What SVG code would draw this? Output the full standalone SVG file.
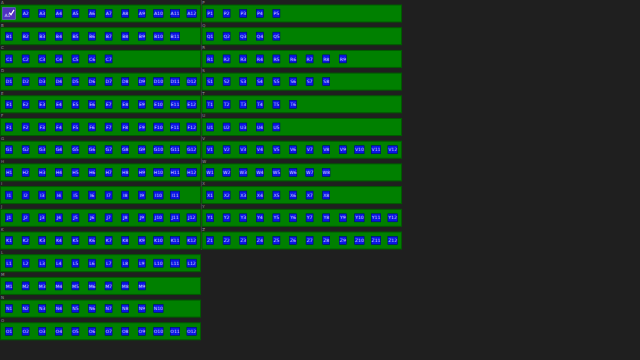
<svg xmlns="http://www.w3.org/2000/svg" width="640" height="360" viewBox="0 0 640 360">
<style>
.row{fill:#008000;stroke:#005a00;stroke-width:1}
.b{fill:#0a14e6;stroke:#00087a;stroke-width:0.6}
.n text{font-family:"DejaVu Sans",sans-serif;font-size:4.5px;fill:#d8dcff;text-anchor:middle}
.lbl{font-family:"DejaVu Sans",sans-serif;font-size:4px;fill:#9a9a9a}
</style>
<rect width="640" height="360" fill="#1f1f1f"/>
<line x1="201.4" y1="0" x2="201.4" y2="250" stroke="#3e3e3e" stroke-width="1"/>
<g id="connectors"/>
<g id="row-A" transform="translate(0.5,5)"><rect class="row" width="200" height="17"/><text class="lbl" x="0.5" y="-1.2">A</text>
<g id="A1" class="n" transform="translate(8.5,8.5)"><rect x="-6.3" y="-5.8" width="12.6" height="11.6" fill="#5030c0" stroke="#7a60e8" stroke-width="0.6"/><text x="-1.5" y="3">A1</text><path d="M0.3,-0.8 L2,1.2 L5,-3.6" fill="none" stroke="#fff" stroke-width="1.2"/></g>
<g id="A2" class="n" transform="translate(25.1,8.5)"><rect class="b" x="-3.5" y="-4" width="7" height="8"/><text y="1.6">A2</text></g>
<g id="A3" class="n" transform="translate(41.7,8.5)"><rect class="b" x="-3.5" y="-4" width="7" height="8"/><text y="1.6">A3</text></g>
<g id="A4" class="n" transform="translate(58.3,8.5)"><rect class="b" x="-3.5" y="-4" width="7" height="8"/><text y="1.6">A4</text></g>
<g id="A5" class="n" transform="translate(74.9,8.5)"><rect class="b" x="-3.5" y="-4" width="7" height="8"/><text y="1.6">A5</text></g>
<g id="A6" class="n" transform="translate(91.5,8.5)"><rect class="b" x="-3.5" y="-4" width="7" height="8"/><text y="1.6">A6</text></g>
<g id="A7" class="n" transform="translate(108.1,8.5)"><rect class="b" x="-3.5" y="-4" width="7" height="8"/><text y="1.6">A7</text></g>
<g id="A8" class="n" transform="translate(124.7,8.5)"><rect class="b" x="-3.5" y="-4" width="7" height="8"/><text y="1.6">A8</text></g>
<g id="A9" class="n" transform="translate(141.3,8.5)"><rect class="b" x="-3.5" y="-4" width="7" height="8"/><text y="1.6">A9</text></g>
<g id="A10" class="n" transform="translate(157.9,8.5)"><rect class="b" x="-4.7" y="-4" width="9.4" height="8"/><text y="1.6">A10</text></g>
<g id="A11" class="n" transform="translate(174.5,8.5)"><rect class="b" x="-4.7" y="-4" width="9.4" height="8"/><text y="1.6">A11</text></g>
<g id="A12" class="n" transform="translate(191.1,8.5)"><rect class="b" x="-4.7" y="-4" width="9.4" height="8"/><text y="1.6">A12</text></g>
</g>
<g id="row-B" transform="translate(0.5,27.7)"><rect class="row" width="200" height="17"/><text class="lbl" x="0.5" y="-1.2">B</text>
<g id="B1" class="n" transform="translate(8.5,8.5)"><rect class="b" x="-3.5" y="-4" width="7" height="8"/><text y="1.6">B1</text></g>
<g id="B2" class="n" transform="translate(25.1,8.5)"><rect class="b" x="-3.5" y="-4" width="7" height="8"/><text y="1.6">B2</text></g>
<g id="B3" class="n" transform="translate(41.7,8.5)"><rect class="b" x="-3.5" y="-4" width="7" height="8"/><text y="1.6">B3</text></g>
<g id="B4" class="n" transform="translate(58.3,8.5)"><rect class="b" x="-3.5" y="-4" width="7" height="8"/><text y="1.6">B4</text></g>
<g id="B5" class="n" transform="translate(74.9,8.5)"><rect class="b" x="-3.5" y="-4" width="7" height="8"/><text y="1.6">B5</text></g>
<g id="B6" class="n" transform="translate(91.5,8.5)"><rect class="b" x="-3.5" y="-4" width="7" height="8"/><text y="1.6">B6</text></g>
<g id="B7" class="n" transform="translate(108.1,8.5)"><rect class="b" x="-3.5" y="-4" width="7" height="8"/><text y="1.6">B7</text></g>
<g id="B8" class="n" transform="translate(124.7,8.5)"><rect class="b" x="-3.5" y="-4" width="7" height="8"/><text y="1.6">B8</text></g>
<g id="B9" class="n" transform="translate(141.3,8.5)"><rect class="b" x="-3.5" y="-4" width="7" height="8"/><text y="1.6">B9</text></g>
<g id="B10" class="n" transform="translate(157.9,8.5)"><rect class="b" x="-4.7" y="-4" width="9.4" height="8"/><text y="1.6">B10</text></g>
<g id="B11" class="n" transform="translate(174.5,8.5)"><rect class="b" x="-4.7" y="-4" width="9.4" height="8"/><text y="1.6">B11</text></g>
</g>
<g id="row-C" transform="translate(0.5,50.4)"><rect class="row" width="200" height="17"/><text class="lbl" x="0.5" y="-1.2">C</text>
<g id="C1" class="n" transform="translate(8.5,8.5)"><rect class="b" x="-3.5" y="-4" width="7" height="8"/><text y="1.6">C1</text></g>
<g id="C2" class="n" transform="translate(25.1,8.5)"><rect class="b" x="-3.5" y="-4" width="7" height="8"/><text y="1.6">C2</text></g>
<g id="C3" class="n" transform="translate(41.7,8.5)"><rect class="b" x="-3.5" y="-4" width="7" height="8"/><text y="1.6">C3</text></g>
<g id="C4" class="n" transform="translate(58.3,8.5)"><rect class="b" x="-3.5" y="-4" width="7" height="8"/><text y="1.6">C4</text></g>
<g id="C5" class="n" transform="translate(74.9,8.5)"><rect class="b" x="-3.5" y="-4" width="7" height="8"/><text y="1.6">C5</text></g>
<g id="C6" class="n" transform="translate(91.5,8.5)"><rect class="b" x="-3.5" y="-4" width="7" height="8"/><text y="1.6">C6</text></g>
<g id="C7" class="n" transform="translate(108.1,8.5)"><rect class="b" x="-3.5" y="-4" width="7" height="8"/><text y="1.6">C7</text></g>
</g>
<g id="row-D" transform="translate(0.5,73.1)"><rect class="row" width="200" height="17"/><text class="lbl" x="0.5" y="-1.2">D</text>
<g id="D1" class="n" transform="translate(8.5,8.5)"><rect class="b" x="-3.5" y="-4" width="7" height="8"/><text y="1.6">D1</text></g>
<g id="D2" class="n" transform="translate(25.1,8.5)"><rect class="b" x="-3.5" y="-4" width="7" height="8"/><text y="1.6">D2</text></g>
<g id="D3" class="n" transform="translate(41.7,8.5)"><rect class="b" x="-3.5" y="-4" width="7" height="8"/><text y="1.6">D3</text></g>
<g id="D4" class="n" transform="translate(58.3,8.5)"><rect class="b" x="-3.5" y="-4" width="7" height="8"/><text y="1.6">D4</text></g>
<g id="D5" class="n" transform="translate(74.9,8.5)"><rect class="b" x="-3.5" y="-4" width="7" height="8"/><text y="1.6">D5</text></g>
<g id="D6" class="n" transform="translate(91.5,8.5)"><rect class="b" x="-3.5" y="-4" width="7" height="8"/><text y="1.6">D6</text></g>
<g id="D7" class="n" transform="translate(108.1,8.5)"><rect class="b" x="-3.5" y="-4" width="7" height="8"/><text y="1.6">D7</text></g>
<g id="D8" class="n" transform="translate(124.7,8.5)"><rect class="b" x="-3.5" y="-4" width="7" height="8"/><text y="1.6">D8</text></g>
<g id="D9" class="n" transform="translate(141.3,8.5)"><rect class="b" x="-3.5" y="-4" width="7" height="8"/><text y="1.6">D9</text></g>
<g id="D10" class="n" transform="translate(157.9,8.5)"><rect class="b" x="-4.7" y="-4" width="9.4" height="8"/><text y="1.6">D10</text></g>
<g id="D11" class="n" transform="translate(174.5,8.5)"><rect class="b" x="-4.7" y="-4" width="9.4" height="8"/><text y="1.6">D11</text></g>
<g id="D12" class="n" transform="translate(191.1,8.5)"><rect class="b" x="-4.7" y="-4" width="9.4" height="8"/><text y="1.6">D12</text></g>
</g>
<g id="row-E" transform="translate(0.5,95.8)"><rect class="row" width="200" height="17"/><text class="lbl" x="0.5" y="-1.2">E</text>
<g id="E1" class="n" transform="translate(8.5,8.5)"><rect class="b" x="-3.5" y="-4" width="7" height="8"/><text y="1.6">E1</text></g>
<g id="E2" class="n" transform="translate(25.1,8.5)"><rect class="b" x="-3.5" y="-4" width="7" height="8"/><text y="1.6">E2</text></g>
<g id="E3" class="n" transform="translate(41.7,8.5)"><rect class="b" x="-3.5" y="-4" width="7" height="8"/><text y="1.6">E3</text></g>
<g id="E4" class="n" transform="translate(58.3,8.5)"><rect class="b" x="-3.5" y="-4" width="7" height="8"/><text y="1.6">E4</text></g>
<g id="E5" class="n" transform="translate(74.9,8.5)"><rect class="b" x="-3.5" y="-4" width="7" height="8"/><text y="1.6">E5</text></g>
<g id="E6" class="n" transform="translate(91.5,8.5)"><rect class="b" x="-3.5" y="-4" width="7" height="8"/><text y="1.6">E6</text></g>
<g id="E7" class="n" transform="translate(108.1,8.5)"><rect class="b" x="-3.5" y="-4" width="7" height="8"/><text y="1.6">E7</text></g>
<g id="E8" class="n" transform="translate(124.7,8.5)"><rect class="b" x="-3.5" y="-4" width="7" height="8"/><text y="1.6">E8</text></g>
<g id="E9" class="n" transform="translate(141.3,8.5)"><rect class="b" x="-3.5" y="-4" width="7" height="8"/><text y="1.6">E9</text></g>
<g id="E10" class="n" transform="translate(157.9,8.5)"><rect class="b" x="-4.7" y="-4" width="9.4" height="8"/><text y="1.6">E10</text></g>
<g id="E11" class="n" transform="translate(174.5,8.5)"><rect class="b" x="-4.7" y="-4" width="9.4" height="8"/><text y="1.6">E11</text></g>
<g id="E12" class="n" transform="translate(191.1,8.5)"><rect class="b" x="-4.7" y="-4" width="9.4" height="8"/><text y="1.6">E12</text></g>
</g>
<g id="row-F" transform="translate(0.5,118.5)"><rect class="row" width="200" height="17"/><text class="lbl" x="0.5" y="-1.2">F</text>
<g id="F1" class="n" transform="translate(8.5,8.5)"><rect class="b" x="-3.5" y="-4" width="7" height="8"/><text y="1.6">F1</text></g>
<g id="F2" class="n" transform="translate(25.1,8.5)"><rect class="b" x="-3.5" y="-4" width="7" height="8"/><text y="1.6">F2</text></g>
<g id="F3" class="n" transform="translate(41.7,8.5)"><rect class="b" x="-3.5" y="-4" width="7" height="8"/><text y="1.6">F3</text></g>
<g id="F4" class="n" transform="translate(58.3,8.5)"><rect class="b" x="-3.5" y="-4" width="7" height="8"/><text y="1.6">F4</text></g>
<g id="F5" class="n" transform="translate(74.9,8.5)"><rect class="b" x="-3.5" y="-4" width="7" height="8"/><text y="1.6">F5</text></g>
<g id="F6" class="n" transform="translate(91.5,8.5)"><rect class="b" x="-3.5" y="-4" width="7" height="8"/><text y="1.6">F6</text></g>
<g id="F7" class="n" transform="translate(108.1,8.5)"><rect class="b" x="-3.5" y="-4" width="7" height="8"/><text y="1.6">F7</text></g>
<g id="F8" class="n" transform="translate(124.7,8.5)"><rect class="b" x="-3.5" y="-4" width="7" height="8"/><text y="1.6">F8</text></g>
<g id="F9" class="n" transform="translate(141.3,8.5)"><rect class="b" x="-3.5" y="-4" width="7" height="8"/><text y="1.6">F9</text></g>
<g id="F10" class="n" transform="translate(157.9,8.5)"><rect class="b" x="-4.7" y="-4" width="9.4" height="8"/><text y="1.6">F10</text></g>
<g id="F11" class="n" transform="translate(174.5,8.5)"><rect class="b" x="-4.7" y="-4" width="9.4" height="8"/><text y="1.6">F11</text></g>
<g id="F12" class="n" transform="translate(191.1,8.5)"><rect class="b" x="-4.7" y="-4" width="9.4" height="8"/><text y="1.6">F12</text></g>
</g>
<g id="row-G" transform="translate(0.5,141.2)"><rect class="row" width="200" height="17"/><text class="lbl" x="0.5" y="-1.2">G</text>
<g id="G1" class="n" transform="translate(8.5,8.5)"><rect class="b" x="-3.5" y="-4" width="7" height="8"/><text y="1.6">G1</text></g>
<g id="G2" class="n" transform="translate(25.1,8.5)"><rect class="b" x="-3.5" y="-4" width="7" height="8"/><text y="1.6">G2</text></g>
<g id="G3" class="n" transform="translate(41.7,8.5)"><rect class="b" x="-3.5" y="-4" width="7" height="8"/><text y="1.6">G3</text></g>
<g id="G4" class="n" transform="translate(58.3,8.5)"><rect class="b" x="-3.5" y="-4" width="7" height="8"/><text y="1.6">G4</text></g>
<g id="G5" class="n" transform="translate(74.9,8.5)"><rect class="b" x="-3.5" y="-4" width="7" height="8"/><text y="1.6">G5</text></g>
<g id="G6" class="n" transform="translate(91.5,8.5)"><rect class="b" x="-3.5" y="-4" width="7" height="8"/><text y="1.6">G6</text></g>
<g id="G7" class="n" transform="translate(108.1,8.5)"><rect class="b" x="-3.5" y="-4" width="7" height="8"/><text y="1.6">G7</text></g>
<g id="G8" class="n" transform="translate(124.7,8.5)"><rect class="b" x="-3.5" y="-4" width="7" height="8"/><text y="1.6">G8</text></g>
<g id="G9" class="n" transform="translate(141.3,8.5)"><rect class="b" x="-3.5" y="-4" width="7" height="8"/><text y="1.6">G9</text></g>
<g id="G10" class="n" transform="translate(157.9,8.5)"><rect class="b" x="-4.7" y="-4" width="9.4" height="8"/><text y="1.6">G10</text></g>
<g id="G11" class="n" transform="translate(174.5,8.5)"><rect class="b" x="-4.7" y="-4" width="9.4" height="8"/><text y="1.6">G11</text></g>
<g id="G12" class="n" transform="translate(191.1,8.5)"><rect class="b" x="-4.7" y="-4" width="9.4" height="8"/><text y="1.6">G12</text></g>
</g>
<g id="row-H" transform="translate(0.5,163.9)"><rect class="row" width="200" height="17"/><text class="lbl" x="0.5" y="-1.2">H</text>
<g id="H1" class="n" transform="translate(8.5,8.5)"><rect class="b" x="-3.5" y="-4" width="7" height="8"/><text y="1.6">H1</text></g>
<g id="H2" class="n" transform="translate(25.1,8.5)"><rect class="b" x="-3.5" y="-4" width="7" height="8"/><text y="1.6">H2</text></g>
<g id="H3" class="n" transform="translate(41.7,8.5)"><rect class="b" x="-3.5" y="-4" width="7" height="8"/><text y="1.6">H3</text></g>
<g id="H4" class="n" transform="translate(58.3,8.5)"><rect class="b" x="-3.5" y="-4" width="7" height="8"/><text y="1.6">H4</text></g>
<g id="H5" class="n" transform="translate(74.9,8.5)"><rect class="b" x="-3.5" y="-4" width="7" height="8"/><text y="1.6">H5</text></g>
<g id="H6" class="n" transform="translate(91.5,8.5)"><rect class="b" x="-3.5" y="-4" width="7" height="8"/><text y="1.6">H6</text></g>
<g id="H7" class="n" transform="translate(108.1,8.5)"><rect class="b" x="-3.5" y="-4" width="7" height="8"/><text y="1.6">H7</text></g>
<g id="H8" class="n" transform="translate(124.7,8.5)"><rect class="b" x="-3.5" y="-4" width="7" height="8"/><text y="1.6">H8</text></g>
<g id="H9" class="n" transform="translate(141.3,8.5)"><rect class="b" x="-3.5" y="-4" width="7" height="8"/><text y="1.6">H9</text></g>
<g id="H10" class="n" transform="translate(157.9,8.5)"><rect class="b" x="-4.7" y="-4" width="9.4" height="8"/><text y="1.6">H10</text></g>
<g id="H11" class="n" transform="translate(174.5,8.5)"><rect class="b" x="-4.7" y="-4" width="9.4" height="8"/><text y="1.6">H11</text></g>
<g id="H12" class="n" transform="translate(191.1,8.5)"><rect class="b" x="-4.7" y="-4" width="9.4" height="8"/><text y="1.6">H12</text></g>
</g>
<g id="row-I" transform="translate(0.5,186.6)"><rect class="row" width="200" height="17"/><text class="lbl" x="0.5" y="-1.2">I</text>
<g id="I1" class="n" transform="translate(8.5,8.5)"><rect class="b" x="-3.5" y="-4" width="7" height="8"/><text y="1.6">I1</text></g>
<g id="I2" class="n" transform="translate(25.1,8.5)"><rect class="b" x="-3.5" y="-4" width="7" height="8"/><text y="1.6">I2</text></g>
<g id="I3" class="n" transform="translate(41.7,8.5)"><rect class="b" x="-3.5" y="-4" width="7" height="8"/><text y="1.6">I3</text></g>
<g id="I4" class="n" transform="translate(58.3,8.5)"><rect class="b" x="-3.5" y="-4" width="7" height="8"/><text y="1.6">I4</text></g>
<g id="I5" class="n" transform="translate(74.9,8.5)"><rect class="b" x="-3.5" y="-4" width="7" height="8"/><text y="1.6">I5</text></g>
<g id="I6" class="n" transform="translate(91.5,8.5)"><rect class="b" x="-3.5" y="-4" width="7" height="8"/><text y="1.6">I6</text></g>
<g id="I7" class="n" transform="translate(108.1,8.5)"><rect class="b" x="-3.5" y="-4" width="7" height="8"/><text y="1.6">I7</text></g>
<g id="I8" class="n" transform="translate(124.7,8.5)"><rect class="b" x="-3.5" y="-4" width="7" height="8"/><text y="1.6">I8</text></g>
<g id="I9" class="n" transform="translate(141.3,8.5)"><rect class="b" x="-3.5" y="-4" width="7" height="8"/><text y="1.6">I9</text></g>
<g id="I10" class="n" transform="translate(157.9,8.5)"><rect class="b" x="-4.7" y="-4" width="9.4" height="8"/><text y="1.6">I10</text></g>
<g id="I11" class="n" transform="translate(174.5,8.5)"><rect class="b" x="-4.7" y="-4" width="9.4" height="8"/><text y="1.6">I11</text></g>
</g>
<g id="row-J" transform="translate(0.5,209.3)"><rect class="row" width="200" height="17"/><text class="lbl" x="0.5" y="-1.2">J</text>
<g id="J1" class="n" transform="translate(8.5,8.5)"><rect class="b" x="-3.5" y="-4" width="7" height="8"/><text y="1.6">J1</text></g>
<g id="J2" class="n" transform="translate(25.1,8.5)"><rect class="b" x="-3.5" y="-4" width="7" height="8"/><text y="1.6">J2</text></g>
<g id="J3" class="n" transform="translate(41.7,8.5)"><rect class="b" x="-3.5" y="-4" width="7" height="8"/><text y="1.6">J3</text></g>
<g id="J4" class="n" transform="translate(58.3,8.5)"><rect class="b" x="-3.5" y="-4" width="7" height="8"/><text y="1.6">J4</text></g>
<g id="J5" class="n" transform="translate(74.9,8.5)"><rect class="b" x="-3.5" y="-4" width="7" height="8"/><text y="1.6">J5</text></g>
<g id="J6" class="n" transform="translate(91.5,8.5)"><rect class="b" x="-3.5" y="-4" width="7" height="8"/><text y="1.6">J6</text></g>
<g id="J7" class="n" transform="translate(108.1,8.5)"><rect class="b" x="-3.5" y="-4" width="7" height="8"/><text y="1.6">J7</text></g>
<g id="J8" class="n" transform="translate(124.7,8.5)"><rect class="b" x="-3.5" y="-4" width="7" height="8"/><text y="1.6">J8</text></g>
<g id="J9" class="n" transform="translate(141.3,8.5)"><rect class="b" x="-3.5" y="-4" width="7" height="8"/><text y="1.6">J9</text></g>
<g id="J10" class="n" transform="translate(157.9,8.5)"><rect class="b" x="-4.7" y="-4" width="9.4" height="8"/><text y="1.6">J10</text></g>
<g id="J11" class="n" transform="translate(174.5,8.5)"><rect class="b" x="-4.7" y="-4" width="9.4" height="8"/><text y="1.6">J11</text></g>
<g id="J12" class="n" transform="translate(191.1,8.5)"><rect class="b" x="-4.7" y="-4" width="9.4" height="8"/><text y="1.6">J12</text></g>
</g>
<g id="row-K" transform="translate(0.5,232)"><rect class="row" width="200" height="17"/><text class="lbl" x="0.5" y="-1.2">K</text>
<g id="K1" class="n" transform="translate(8.5,8.5)"><rect class="b" x="-3.5" y="-4" width="7" height="8"/><text y="1.6">K1</text></g>
<g id="K2" class="n" transform="translate(25.1,8.5)"><rect class="b" x="-3.5" y="-4" width="7" height="8"/><text y="1.6">K2</text></g>
<g id="K3" class="n" transform="translate(41.7,8.5)"><rect class="b" x="-3.5" y="-4" width="7" height="8"/><text y="1.6">K3</text></g>
<g id="K4" class="n" transform="translate(58.3,8.5)"><rect class="b" x="-3.5" y="-4" width="7" height="8"/><text y="1.6">K4</text></g>
<g id="K5" class="n" transform="translate(74.9,8.5)"><rect class="b" x="-3.5" y="-4" width="7" height="8"/><text y="1.6">K5</text></g>
<g id="K6" class="n" transform="translate(91.5,8.5)"><rect class="b" x="-3.5" y="-4" width="7" height="8"/><text y="1.6">K6</text></g>
<g id="K7" class="n" transform="translate(108.1,8.5)"><rect class="b" x="-3.5" y="-4" width="7" height="8"/><text y="1.6">K7</text></g>
<g id="K8" class="n" transform="translate(124.7,8.5)"><rect class="b" x="-3.5" y="-4" width="7" height="8"/><text y="1.6">K8</text></g>
<g id="K9" class="n" transform="translate(141.3,8.5)"><rect class="b" x="-3.5" y="-4" width="7" height="8"/><text y="1.6">K9</text></g>
<g id="K10" class="n" transform="translate(157.9,8.5)"><rect class="b" x="-4.7" y="-4" width="9.4" height="8"/><text y="1.6">K10</text></g>
<g id="K11" class="n" transform="translate(174.5,8.5)"><rect class="b" x="-4.7" y="-4" width="9.4" height="8"/><text y="1.6">K11</text></g>
<g id="K12" class="n" transform="translate(191.1,8.5)"><rect class="b" x="-4.7" y="-4" width="9.4" height="8"/><text y="1.6">K12</text></g>
</g>
<g id="row-L" transform="translate(0.5,254.7)"><rect class="row" width="200" height="17"/><text class="lbl" x="0.5" y="-1.2">L</text>
<g id="L1" class="n" transform="translate(8.5,8.5)"><rect class="b" x="-3.5" y="-4" width="7" height="8"/><text y="1.6">L1</text></g>
<g id="L2" class="n" transform="translate(25.1,8.5)"><rect class="b" x="-3.5" y="-4" width="7" height="8"/><text y="1.6">L2</text></g>
<g id="L3" class="n" transform="translate(41.7,8.5)"><rect class="b" x="-3.5" y="-4" width="7" height="8"/><text y="1.6">L3</text></g>
<g id="L4" class="n" transform="translate(58.3,8.5)"><rect class="b" x="-3.5" y="-4" width="7" height="8"/><text y="1.6">L4</text></g>
<g id="L5" class="n" transform="translate(74.9,8.5)"><rect class="b" x="-3.5" y="-4" width="7" height="8"/><text y="1.6">L5</text></g>
<g id="L6" class="n" transform="translate(91.5,8.5)"><rect class="b" x="-3.5" y="-4" width="7" height="8"/><text y="1.6">L6</text></g>
<g id="L7" class="n" transform="translate(108.1,8.5)"><rect class="b" x="-3.5" y="-4" width="7" height="8"/><text y="1.6">L7</text></g>
<g id="L8" class="n" transform="translate(124.7,8.5)"><rect class="b" x="-3.5" y="-4" width="7" height="8"/><text y="1.6">L8</text></g>
<g id="L9" class="n" transform="translate(141.3,8.5)"><rect class="b" x="-3.5" y="-4" width="7" height="8"/><text y="1.6">L9</text></g>
<g id="L10" class="n" transform="translate(157.9,8.5)"><rect class="b" x="-4.7" y="-4" width="9.4" height="8"/><text y="1.6">L10</text></g>
<g id="L11" class="n" transform="translate(174.5,8.5)"><rect class="b" x="-4.7" y="-4" width="9.4" height="8"/><text y="1.6">L11</text></g>
<g id="L12" class="n" transform="translate(191.1,8.5)"><rect class="b" x="-4.7" y="-4" width="9.4" height="8"/><text y="1.6">L12</text></g>
</g>
<g id="row-M" transform="translate(0.5,277.4)"><rect class="row" width="200" height="17"/><text class="lbl" x="0.5" y="-1.2">M</text>
<g id="M1" class="n" transform="translate(8.5,8.5)"><rect class="b" x="-3.5" y="-4" width="7" height="8"/><text y="1.6">M1</text></g>
<g id="M2" class="n" transform="translate(25.1,8.5)"><rect class="b" x="-3.5" y="-4" width="7" height="8"/><text y="1.6">M2</text></g>
<g id="M3" class="n" transform="translate(41.7,8.5)"><rect class="b" x="-3.5" y="-4" width="7" height="8"/><text y="1.6">M3</text></g>
<g id="M4" class="n" transform="translate(58.3,8.5)"><rect class="b" x="-3.5" y="-4" width="7" height="8"/><text y="1.6">M4</text></g>
<g id="M5" class="n" transform="translate(74.9,8.5)"><rect class="b" x="-3.5" y="-4" width="7" height="8"/><text y="1.6">M5</text></g>
<g id="M6" class="n" transform="translate(91.5,8.5)"><rect class="b" x="-3.5" y="-4" width="7" height="8"/><text y="1.6">M6</text></g>
<g id="M7" class="n" transform="translate(108.1,8.5)"><rect class="b" x="-3.5" y="-4" width="7" height="8"/><text y="1.6">M7</text></g>
<g id="M8" class="n" transform="translate(124.7,8.5)"><rect class="b" x="-3.5" y="-4" width="7" height="8"/><text y="1.6">M8</text></g>
<g id="M9" class="n" transform="translate(141.3,8.5)"><rect class="b" x="-3.5" y="-4" width="7" height="8"/><text y="1.6">M9</text></g>
</g>
<g id="row-N" transform="translate(0.5,300.1)"><rect class="row" width="200" height="17"/><text class="lbl" x="0.5" y="-1.2">N</text>
<g id="N1" class="n" transform="translate(8.5,8.5)"><rect class="b" x="-3.5" y="-4" width="7" height="8"/><text y="1.6">N1</text></g>
<g id="N2" class="n" transform="translate(25.1,8.5)"><rect class="b" x="-3.5" y="-4" width="7" height="8"/><text y="1.6">N2</text></g>
<g id="N3" class="n" transform="translate(41.7,8.5)"><rect class="b" x="-3.5" y="-4" width="7" height="8"/><text y="1.6">N3</text></g>
<g id="N4" class="n" transform="translate(58.3,8.5)"><rect class="b" x="-3.5" y="-4" width="7" height="8"/><text y="1.6">N4</text></g>
<g id="N5" class="n" transform="translate(74.9,8.5)"><rect class="b" x="-3.5" y="-4" width="7" height="8"/><text y="1.6">N5</text></g>
<g id="N6" class="n" transform="translate(91.5,8.5)"><rect class="b" x="-3.5" y="-4" width="7" height="8"/><text y="1.6">N6</text></g>
<g id="N7" class="n" transform="translate(108.1,8.5)"><rect class="b" x="-3.5" y="-4" width="7" height="8"/><text y="1.6">N7</text></g>
<g id="N8" class="n" transform="translate(124.7,8.5)"><rect class="b" x="-3.5" y="-4" width="7" height="8"/><text y="1.6">N8</text></g>
<g id="N9" class="n" transform="translate(141.3,8.5)"><rect class="b" x="-3.5" y="-4" width="7" height="8"/><text y="1.6">N9</text></g>
<g id="N10" class="n" transform="translate(157.9,8.5)"><rect class="b" x="-4.7" y="-4" width="9.4" height="8"/><text y="1.6">N10</text></g>
</g>
<g id="row-O" transform="translate(0.5,322.8)"><rect class="row" width="200" height="17"/><text class="lbl" x="0.5" y="-1.2">O</text>
<g id="O1" class="n" transform="translate(8.5,8.5)"><rect class="b" x="-3.5" y="-4" width="7" height="8"/><text y="1.6">O1</text></g>
<g id="O2" class="n" transform="translate(25.1,8.5)"><rect class="b" x="-3.5" y="-4" width="7" height="8"/><text y="1.6">O2</text></g>
<g id="O3" class="n" transform="translate(41.7,8.5)"><rect class="b" x="-3.5" y="-4" width="7" height="8"/><text y="1.6">O3</text></g>
<g id="O4" class="n" transform="translate(58.3,8.5)"><rect class="b" x="-3.5" y="-4" width="7" height="8"/><text y="1.6">O4</text></g>
<g id="O5" class="n" transform="translate(74.9,8.5)"><rect class="b" x="-3.5" y="-4" width="7" height="8"/><text y="1.6">O5</text></g>
<g id="O6" class="n" transform="translate(91.5,8.5)"><rect class="b" x="-3.5" y="-4" width="7" height="8"/><text y="1.6">O6</text></g>
<g id="O7" class="n" transform="translate(108.1,8.5)"><rect class="b" x="-3.5" y="-4" width="7" height="8"/><text y="1.6">O7</text></g>
<g id="O8" class="n" transform="translate(124.7,8.5)"><rect class="b" x="-3.5" y="-4" width="7" height="8"/><text y="1.6">O8</text></g>
<g id="O9" class="n" transform="translate(141.3,8.5)"><rect class="b" x="-3.5" y="-4" width="7" height="8"/><text y="1.6">O9</text></g>
<g id="O10" class="n" transform="translate(157.9,8.5)"><rect class="b" x="-4.7" y="-4" width="9.4" height="8"/><text y="1.6">O10</text></g>
<g id="O11" class="n" transform="translate(174.5,8.5)"><rect class="b" x="-4.7" y="-4" width="9.4" height="8"/><text y="1.6">O11</text></g>
<g id="O12" class="n" transform="translate(191.1,8.5)"><rect class="b" x="-4.7" y="-4" width="9.4" height="8"/><text y="1.6">O12</text></g>
</g>
<g id="row-P" transform="translate(201.5,5)"><rect class="row" x="0.5" width="199.5" height="17"/><text class="lbl" x="0.8" y="-1.2">P</text>
<g id="P1" class="n" transform="translate(8.5,8.5)"><rect class="b" x="-3.5" y="-4" width="7" height="8"/><text y="1.6">P1</text></g>
<g id="P2" class="n" transform="translate(25.1,8.5)"><rect class="b" x="-3.5" y="-4" width="7" height="8"/><text y="1.6">P2</text></g>
<g id="P3" class="n" transform="translate(41.7,8.5)"><rect class="b" x="-3.5" y="-4" width="7" height="8"/><text y="1.6">P3</text></g>
<g id="P4" class="n" transform="translate(58.3,8.5)"><rect class="b" x="-3.5" y="-4" width="7" height="8"/><text y="1.6">P4</text></g>
<g id="P5" class="n" transform="translate(74.9,8.5)"><rect class="b" x="-3.5" y="-4" width="7" height="8"/><text y="1.6">P5</text></g>
</g>
<g id="row-Q" transform="translate(201.5,27.7)"><rect class="row" x="0.5" width="199.5" height="17"/><text class="lbl" x="0.8" y="-1.2">Q</text>
<g id="Q1" class="n" transform="translate(8.5,8.5)"><rect class="b" x="-3.5" y="-4" width="7" height="8"/><text y="1.6">Q1</text></g>
<g id="Q2" class="n" transform="translate(25.1,8.5)"><rect class="b" x="-3.5" y="-4" width="7" height="8"/><text y="1.6">Q2</text></g>
<g id="Q3" class="n" transform="translate(41.7,8.5)"><rect class="b" x="-3.5" y="-4" width="7" height="8"/><text y="1.6">Q3</text></g>
<g id="Q4" class="n" transform="translate(58.3,8.5)"><rect class="b" x="-3.5" y="-4" width="7" height="8"/><text y="1.6">Q4</text></g>
<g id="Q5" class="n" transform="translate(74.9,8.5)"><rect class="b" x="-3.5" y="-4" width="7" height="8"/><text y="1.6">Q5</text></g>
</g>
<g id="row-R" transform="translate(201.5,50.4)"><rect class="row" x="0.5" width="199.5" height="17"/><text class="lbl" x="0.8" y="-1.2">R</text>
<g id="R1" class="n" transform="translate(8.5,8.5)"><rect class="b" x="-3.5" y="-4" width="7" height="8"/><text y="1.6">R1</text></g>
<g id="R2" class="n" transform="translate(25.1,8.5)"><rect class="b" x="-3.5" y="-4" width="7" height="8"/><text y="1.6">R2</text></g>
<g id="R3" class="n" transform="translate(41.7,8.5)"><rect class="b" x="-3.5" y="-4" width="7" height="8"/><text y="1.6">R3</text></g>
<g id="R4" class="n" transform="translate(58.3,8.5)"><rect class="b" x="-3.5" y="-4" width="7" height="8"/><text y="1.6">R4</text></g>
<g id="R5" class="n" transform="translate(74.9,8.5)"><rect class="b" x="-3.5" y="-4" width="7" height="8"/><text y="1.6">R5</text></g>
<g id="R6" class="n" transform="translate(91.5,8.5)"><rect class="b" x="-3.5" y="-4" width="7" height="8"/><text y="1.6">R6</text></g>
<g id="R7" class="n" transform="translate(108.1,8.5)"><rect class="b" x="-3.5" y="-4" width="7" height="8"/><text y="1.6">R7</text></g>
<g id="R8" class="n" transform="translate(124.7,8.5)"><rect class="b" x="-3.5" y="-4" width="7" height="8"/><text y="1.6">R8</text></g>
<g id="R9" class="n" transform="translate(141.3,8.5)"><rect class="b" x="-3.5" y="-4" width="7" height="8"/><text y="1.6">R9</text></g>
</g>
<g id="row-S" transform="translate(201.5,73.1)"><rect class="row" x="0.5" width="199.5" height="17"/><text class="lbl" x="0.8" y="-1.2">S</text>
<g id="S1" class="n" transform="translate(8.5,8.5)"><rect class="b" x="-3.5" y="-4" width="7" height="8"/><text y="1.6">S1</text></g>
<g id="S2" class="n" transform="translate(25.1,8.5)"><rect class="b" x="-3.5" y="-4" width="7" height="8"/><text y="1.6">S2</text></g>
<g id="S3" class="n" transform="translate(41.7,8.5)"><rect class="b" x="-3.5" y="-4" width="7" height="8"/><text y="1.6">S3</text></g>
<g id="S4" class="n" transform="translate(58.3,8.5)"><rect class="b" x="-3.5" y="-4" width="7" height="8"/><text y="1.6">S4</text></g>
<g id="S5" class="n" transform="translate(74.9,8.5)"><rect class="b" x="-3.5" y="-4" width="7" height="8"/><text y="1.6">S5</text></g>
<g id="S6" class="n" transform="translate(91.5,8.5)"><rect class="b" x="-3.5" y="-4" width="7" height="8"/><text y="1.6">S6</text></g>
<g id="S7" class="n" transform="translate(108.1,8.5)"><rect class="b" x="-3.5" y="-4" width="7" height="8"/><text y="1.6">S7</text></g>
<g id="S8" class="n" transform="translate(124.7,8.5)"><rect class="b" x="-3.5" y="-4" width="7" height="8"/><text y="1.6">S8</text></g>
</g>
<g id="row-T" transform="translate(201.5,95.8)"><rect class="row" x="0.5" width="199.5" height="17"/><text class="lbl" x="0.8" y="-1.2">T</text>
<g id="T1" class="n" transform="translate(8.5,8.5)"><rect class="b" x="-3.5" y="-4" width="7" height="8"/><text y="1.6">T1</text></g>
<g id="T2" class="n" transform="translate(25.1,8.5)"><rect class="b" x="-3.5" y="-4" width="7" height="8"/><text y="1.6">T2</text></g>
<g id="T3" class="n" transform="translate(41.7,8.5)"><rect class="b" x="-3.5" y="-4" width="7" height="8"/><text y="1.6">T3</text></g>
<g id="T4" class="n" transform="translate(58.3,8.5)"><rect class="b" x="-3.5" y="-4" width="7" height="8"/><text y="1.6">T4</text></g>
<g id="T5" class="n" transform="translate(74.9,8.5)"><rect class="b" x="-3.5" y="-4" width="7" height="8"/><text y="1.6">T5</text></g>
<g id="T6" class="n" transform="translate(91.5,8.5)"><rect class="b" x="-3.5" y="-4" width="7" height="8"/><text y="1.6">T6</text></g>
</g>
<g id="row-U" transform="translate(201.5,118.5)"><rect class="row" x="0.5" width="199.5" height="17"/><text class="lbl" x="0.8" y="-1.2">U</text>
<g id="U1" class="n" transform="translate(8.5,8.5)"><rect class="b" x="-3.5" y="-4" width="7" height="8"/><text y="1.6">U1</text></g>
<g id="U2" class="n" transform="translate(25.1,8.5)"><rect class="b" x="-3.5" y="-4" width="7" height="8"/><text y="1.6">U2</text></g>
<g id="U3" class="n" transform="translate(41.7,8.5)"><rect class="b" x="-3.5" y="-4" width="7" height="8"/><text y="1.6">U3</text></g>
<g id="U4" class="n" transform="translate(58.3,8.5)"><rect class="b" x="-3.5" y="-4" width="7" height="8"/><text y="1.6">U4</text></g>
<g id="U5" class="n" transform="translate(74.9,8.5)"><rect class="b" x="-3.5" y="-4" width="7" height="8"/><text y="1.6">U5</text></g>
</g>
<g id="row-V" transform="translate(201.5,141.2)"><rect class="row" x="0.5" width="199.5" height="17"/><text class="lbl" x="0.8" y="-1.2">V</text>
<g id="V1" class="n" transform="translate(8.5,8.5)"><rect class="b" x="-3.5" y="-4" width="7" height="8"/><text y="1.6">V1</text></g>
<g id="V2" class="n" transform="translate(25.1,8.5)"><rect class="b" x="-3.5" y="-4" width="7" height="8"/><text y="1.6">V2</text></g>
<g id="V3" class="n" transform="translate(41.7,8.5)"><rect class="b" x="-3.5" y="-4" width="7" height="8"/><text y="1.6">V3</text></g>
<g id="V4" class="n" transform="translate(58.3,8.5)"><rect class="b" x="-3.5" y="-4" width="7" height="8"/><text y="1.6">V4</text></g>
<g id="V5" class="n" transform="translate(74.9,8.5)"><rect class="b" x="-3.5" y="-4" width="7" height="8"/><text y="1.6">V5</text></g>
<g id="V6" class="n" transform="translate(91.5,8.5)"><rect class="b" x="-3.5" y="-4" width="7" height="8"/><text y="1.6">V6</text></g>
<g id="V7" class="n" transform="translate(108.1,8.5)"><rect class="b" x="-3.5" y="-4" width="7" height="8"/><text y="1.6">V7</text></g>
<g id="V8" class="n" transform="translate(124.7,8.5)"><rect class="b" x="-3.5" y="-4" width="7" height="8"/><text y="1.6">V8</text></g>
<g id="V9" class="n" transform="translate(141.3,8.5)"><rect class="b" x="-3.5" y="-4" width="7" height="8"/><text y="1.6">V9</text></g>
<g id="V10" class="n" transform="translate(157.9,8.5)"><rect class="b" x="-4.7" y="-4" width="9.4" height="8"/><text y="1.6">V10</text></g>
<g id="V11" class="n" transform="translate(174.5,8.5)"><rect class="b" x="-4.7" y="-4" width="9.4" height="8"/><text y="1.6">V11</text></g>
<g id="V12" class="n" transform="translate(191.1,8.5)"><rect class="b" x="-4.7" y="-4" width="9.4" height="8"/><text y="1.6">V12</text></g>
</g>
<g id="row-W" transform="translate(201.5,163.9)"><rect class="row" x="0.5" width="199.5" height="17"/><text class="lbl" x="0.8" y="-1.2">W</text>
<g id="W1" class="n" transform="translate(8.5,8.5)"><rect class="b" x="-3.8" y="-4" width="7.6" height="8"/><text y="1.6">W1</text></g>
<g id="W2" class="n" transform="translate(25.1,8.5)"><rect class="b" x="-3.8" y="-4" width="7.6" height="8"/><text y="1.6">W2</text></g>
<g id="W3" class="n" transform="translate(41.7,8.5)"><rect class="b" x="-3.8" y="-4" width="7.6" height="8"/><text y="1.6">W3</text></g>
<g id="W4" class="n" transform="translate(58.3,8.5)"><rect class="b" x="-3.8" y="-4" width="7.6" height="8"/><text y="1.6">W4</text></g>
<g id="W5" class="n" transform="translate(74.9,8.5)"><rect class="b" x="-3.8" y="-4" width="7.6" height="8"/><text y="1.6">W5</text></g>
<g id="W6" class="n" transform="translate(91.5,8.5)"><rect class="b" x="-3.8" y="-4" width="7.6" height="8"/><text y="1.6">W6</text></g>
<g id="W7" class="n" transform="translate(108.1,8.5)"><rect class="b" x="-3.8" y="-4" width="7.6" height="8"/><text y="1.6">W7</text></g>
<g id="W8" class="n" transform="translate(124.7,8.5)"><rect class="b" x="-3.8" y="-4" width="7.6" height="8"/><text y="1.6">W8</text></g>
</g>
<g id="row-X" transform="translate(201.5,186.6)"><rect class="row" x="0.5" width="199.5" height="17"/><text class="lbl" x="0.8" y="-1.2">X</text>
<g id="X1" class="n" transform="translate(8.5,8.5)"><rect class="b" x="-3.5" y="-4" width="7" height="8"/><text y="1.6">X1</text></g>
<g id="X2" class="n" transform="translate(25.1,8.5)"><rect class="b" x="-3.5" y="-4" width="7" height="8"/><text y="1.6">X2</text></g>
<g id="X3" class="n" transform="translate(41.7,8.5)"><rect class="b" x="-3.5" y="-4" width="7" height="8"/><text y="1.6">X3</text></g>
<g id="X4" class="n" transform="translate(58.3,8.5)"><rect class="b" x="-3.5" y="-4" width="7" height="8"/><text y="1.6">X4</text></g>
<g id="X5" class="n" transform="translate(74.9,8.5)"><rect class="b" x="-3.5" y="-4" width="7" height="8"/><text y="1.6">X5</text></g>
<g id="X6" class="n" transform="translate(91.5,8.5)"><rect class="b" x="-3.5" y="-4" width="7" height="8"/><text y="1.6">X6</text></g>
<g id="X7" class="n" transform="translate(108.1,8.5)"><rect class="b" x="-3.5" y="-4" width="7" height="8"/><text y="1.6">X7</text></g>
<g id="X8" class="n" transform="translate(124.7,8.5)"><rect class="b" x="-3.5" y="-4" width="7" height="8"/><text y="1.6">X8</text></g>
</g>
<g id="row-Y" transform="translate(201.5,209.3)"><rect class="row" x="0.5" width="199.5" height="17"/><text class="lbl" x="0.8" y="-1.2">Y</text>
<g id="Y1" class="n" transform="translate(8.5,8.5)"><rect class="b" x="-3.5" y="-4" width="7" height="8"/><text y="1.6">Y1</text></g>
<g id="Y2" class="n" transform="translate(25.1,8.5)"><rect class="b" x="-3.5" y="-4" width="7" height="8"/><text y="1.6">Y2</text></g>
<g id="Y3" class="n" transform="translate(41.7,8.5)"><rect class="b" x="-3.5" y="-4" width="7" height="8"/><text y="1.6">Y3</text></g>
<g id="Y4" class="n" transform="translate(58.3,8.5)"><rect class="b" x="-3.5" y="-4" width="7" height="8"/><text y="1.6">Y4</text></g>
<g id="Y5" class="n" transform="translate(74.9,8.5)"><rect class="b" x="-3.5" y="-4" width="7" height="8"/><text y="1.6">Y5</text></g>
<g id="Y6" class="n" transform="translate(91.5,8.5)"><rect class="b" x="-3.5" y="-4" width="7" height="8"/><text y="1.6">Y6</text></g>
<g id="Y7" class="n" transform="translate(108.1,8.5)"><rect class="b" x="-3.5" y="-4" width="7" height="8"/><text y="1.6">Y7</text></g>
<g id="Y8" class="n" transform="translate(124.7,8.5)"><rect class="b" x="-3.5" y="-4" width="7" height="8"/><text y="1.6">Y8</text></g>
<g id="Y9" class="n" transform="translate(141.3,8.5)"><rect class="b" x="-3.5" y="-4" width="7" height="8"/><text y="1.6">Y9</text></g>
<g id="Y10" class="n" transform="translate(157.9,8.5)"><rect class="b" x="-4.7" y="-4" width="9.4" height="8"/><text y="1.6">Y10</text></g>
<g id="Y11" class="n" transform="translate(174.5,8.5)"><rect class="b" x="-4.7" y="-4" width="9.4" height="8"/><text y="1.6">Y11</text></g>
<g id="Y12" class="n" transform="translate(191.1,8.5)"><rect class="b" x="-4.7" y="-4" width="9.4" height="8"/><text y="1.6">Y12</text></g>
</g>
<g id="row-Z" transform="translate(201.5,232)"><rect class="row" x="0.5" width="199.5" height="17"/><text class="lbl" x="0.8" y="-1.2">Z</text>
<g id="Z1" class="n" transform="translate(8.5,8.5)"><rect class="b" x="-3.5" y="-4" width="7" height="8"/><text y="1.6">Z1</text></g>
<g id="Z2" class="n" transform="translate(25.1,8.5)"><rect class="b" x="-3.5" y="-4" width="7" height="8"/><text y="1.6">Z2</text></g>
<g id="Z3" class="n" transform="translate(41.7,8.5)"><rect class="b" x="-3.5" y="-4" width="7" height="8"/><text y="1.6">Z3</text></g>
<g id="Z4" class="n" transform="translate(58.3,8.5)"><rect class="b" x="-3.5" y="-4" width="7" height="8"/><text y="1.6">Z4</text></g>
<g id="Z5" class="n" transform="translate(74.9,8.5)"><rect class="b" x="-3.5" y="-4" width="7" height="8"/><text y="1.6">Z5</text></g>
<g id="Z6" class="n" transform="translate(91.5,8.5)"><rect class="b" x="-3.5" y="-4" width="7" height="8"/><text y="1.6">Z6</text></g>
<g id="Z7" class="n" transform="translate(108.1,8.5)"><rect class="b" x="-3.5" y="-4" width="7" height="8"/><text y="1.6">Z7</text></g>
<g id="Z8" class="n" transform="translate(124.7,8.5)"><rect class="b" x="-3.5" y="-4" width="7" height="8"/><text y="1.6">Z8</text></g>
<g id="Z9" class="n" transform="translate(141.3,8.5)"><rect class="b" x="-3.5" y="-4" width="7" height="8"/><text y="1.6">Z9</text></g>
<g id="Z10" class="n" transform="translate(157.9,8.5)"><rect class="b" x="-4.7" y="-4" width="9.4" height="8"/><text y="1.6">Z10</text></g>
<g id="Z11" class="n" transform="translate(174.5,8.5)"><rect class="b" x="-4.7" y="-4" width="9.4" height="8"/><text y="1.6">Z11</text></g>
<g id="Z12" class="n" transform="translate(191.1,8.5)"><rect class="b" x="-4.7" y="-4" width="9.4" height="8"/><text y="1.6">Z12</text></g>
</g>
</svg>
